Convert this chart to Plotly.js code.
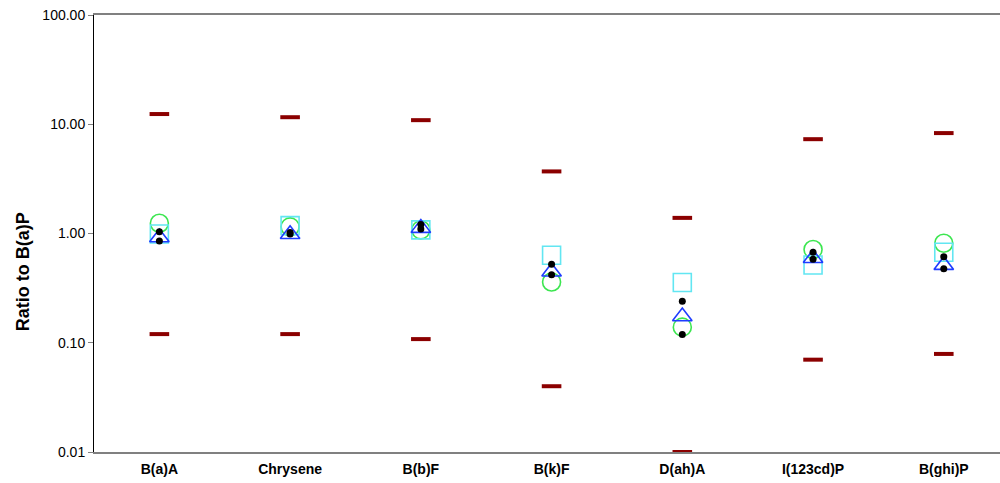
<!DOCTYPE html>
<html>
<head>
<meta charset="utf-8">
<script src="https://cdn.plot.ly/plotly-3.0.1.min.js"></script>
<style>
html,body{margin:0;padding:0;background:#fff;}
#chart{width:1000px;height:483px;}
</style>
</head>
<body>
<div id="chart"></div>
<script>
var categories = ['B(a)A', 'Chrysene', 'B(b)F', 'B(k)F', 'D(ah)A', 'I(123cd)P', 'B(ghi)P'];
var maxVals = [12.4, 11.6, 10.9, 3.7, 1.39, 7.3, 8.3];
var minVals = [0.12, 0.12, 0.108, 0.040, 0.010, 0.070, 0.079];
var circleVals = [1.24, 1.15, 1.08, 0.36, 0.139, 0.714, 0.815];
var squareVals = [0.99, 1.18, 1.08, 0.633, 0.356, 0.515, 0.674];
var triangleVals = [0.92, 0.985, 1.12, 0.447, 0.174, 0.593, 0.513];
var dotVals1 = [1.04, 1.02, 1.21, 0.522, 0.24, 0.673, 0.613];
var dotVals2 = [0.854, 0.99, 1.10, 0.42, 0.119, 0.58, 0.476];
var yTicks = [0.01, 0.1, 1, 10, 100];

var xIdx = categories.map(function(c, i){ return i; });

function sc(y, marker) {
  return {x: xIdx, y: y, type: 'scatter', mode: 'markers', marker: marker,
          cliponaxis: false, hoverinfo: 'y', showlegend: false};
}

var dash = {symbol: 'line-ew', size: 14, color: '#8b0000', line: {color: '#8b0000', width: 4}};
var traces = [
  sc(maxVals, dash),
  sc(minVals, dash),
  sc(circleVals, {symbol: 'circle-open', size: 18, color: '#3ce650', line: {color: '#3ce650', width: 1.6}}),
  sc(squareVals, {symbol: 'square-open', size: 18, color: '#62e6f2', line: {color: '#62e6f2', width: 1.6}}),
  sc(triangleVals, {symbol: 'triangle-up-open', size: 17, color: '#1e3cff', line: {color: '#1e3cff', width: 1.6}}),
  sc(dotVals1, {symbol: 'circle', size: 7, color: '#000000'}),
  sc(dotVals2, {symbol: 'circle', size: 7, color: '#000000'})
];

var layout = {
  width: 1000, height: 483,
  margin: {l: 94, r: 0, t: 15, b: 31},
  paper_bgcolor: '#ffffff', plot_bgcolor: '#ffffff',
  font: {family: '"Liberation Sans", Arial, sans-serif', color: '#000000', size: 14},
  xaxis: {
    range: [-0.5, 6.43],
    tickmode: 'array', tickvals: xIdx, ticktext: categories,
    ticks: '', showgrid: false, zeroline: false,
    showline: true, linecolor: '#808080', linewidth: 2, mirror: true,
    tickfont: {family: '"Liberation Sans", Arial, sans-serif', size: 14, weight: 'bold'},
    ticklabelstandoff: 3
  },
  yaxis: {
    type: 'log', range: [-2, 2],
    tickmode: 'array', tickvals: yTicks, tickformat: '.2f',
    ticks: 'outside', ticklen: 5, tickcolor: '#808080', tickwidth: 1,
    showgrid: false, zeroline: false,
    showline: true, linecolor: '#000000', linewidth: 1,
    tickfont: {size: 14}
  },
  annotations: [{
    text: '<b>Ratio to B(a)P</b>', textangle: -90,
    xref: 'paper', yref: 'paper', x: -0.078, y: 0.412,
    xanchor: 'center', yanchor: 'middle', showarrow: false,
    font: {size: 18, color: '#000000'}
  }]
};

Plotly.newPlot('chart', traces, layout, {displayModeBar: false, staticPlot: true});
</script>
</body>
</html>
